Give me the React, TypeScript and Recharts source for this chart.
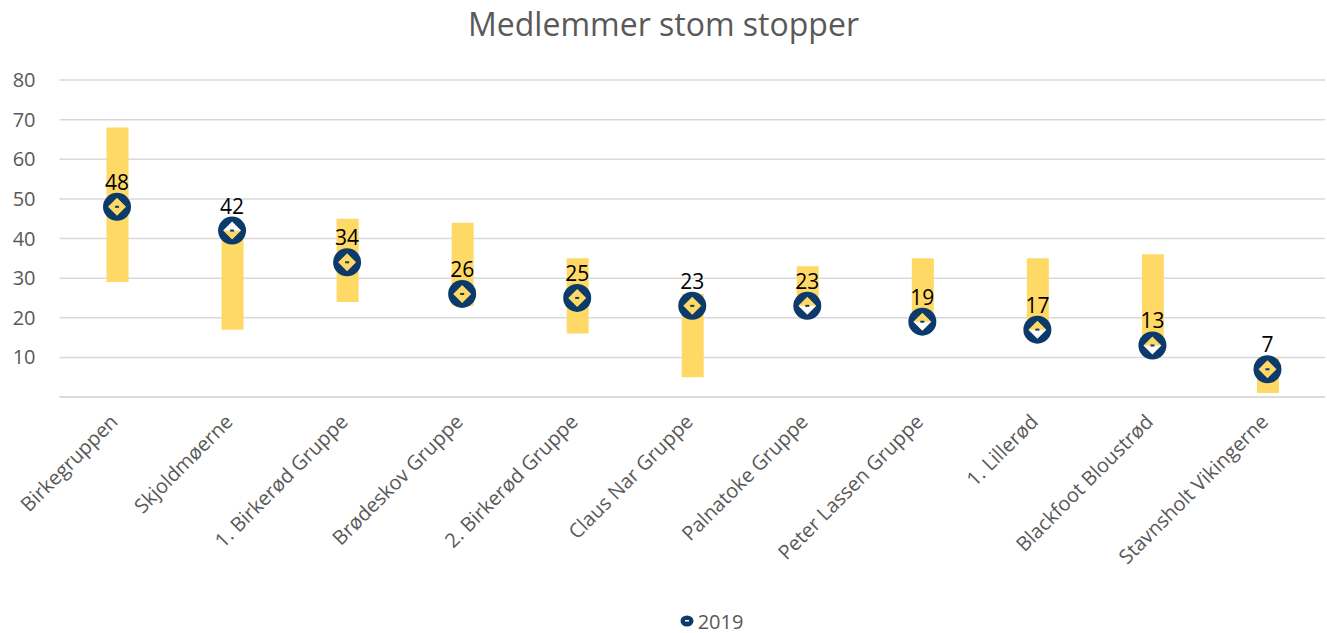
import { Bar, CartesianGrid, ComposedChart, Legend, Line, XAxis, YAxis } from "recharts";

const groups = [
  "Birkegruppen",
  "Skjoldmøerne",
  "1. Birkerød Gruppe",
  "Brødeskov Gruppe",
  "2. Birkerød Gruppe",
  "Claus Nar Gruppe",
  "Palnatoke Gruppe",
  "Peter Lassen Gruppe",
  "1. Lillerød",
  "Blackfoot Bloustrød",
  "Stavnsholt Vikingerne",
];
const rangeLow = [29, 17, 24, 23, 16, 5, 23, 19, 17, 13, 1];
const rangeHigh = [68, 42, 45, 44, 35, 26, 33, 35, 35, 36, 10];
const members2019 = [48, 42, 34, 26, 25, 23, 23, 19, 17, 13, 7];
const yTicks = [0, 10, 20, 30, 40, 50, 60, 70, 80];

const data = groups.map((name, i) => ({
  name,
  low: rangeLow[i],
  high: rangeHigh[i],
  value: members2019[i],
}));

const NAVY = "#0b3a6b";
const YELLOW = "#ffd966";
const GREY = "#595959";
const FONT = "'Open Sans', sans-serif";

function Marker(props: any) {
  const { cx, cy } = props;
  if (cx == null || cy == null) return null;
  const r = 14;
  const d = 9;
  const path =
    `M ${cx - r} ${cy} a ${r} ${r} 0 1 0 ${2 * r} 0 a ${r} ${r} 0 1 0 ${-2 * r} 0 Z ` +
    `M ${cx} ${cy - d} L ${cx + d} ${cy} L ${cx} ${cy + d} L ${cx - d} ${cy} Z`;
  return (
    <g>
      <path d={path} fill={NAVY} fillRule="evenodd" />
      <rect x={cx - 2} y={cy - 1} width={4} height={2} fill={NAVY} />
    </g>
  );
}

function ValueLabel(props: any) {
  const { x, y, value } = props;
  return (
    <text x={x} y={y - 17} textAnchor="middle" fontSize={21} fill="#000" fontFamily={FONT}>
      {value}
    </text>
  );
}

function AngledTick(props: any) {
  const { x, y, payload } = props;
  const px = x + 2;
  const py = y + 26;
  return (
    <text
      x={px}
      y={py}
      transform={`rotate(-45 ${px} ${py})`}
      textAnchor="end"
      fontSize={20}
      fill={GREY}
      fontFamily={FONT}
    >
      {payload.value}
    </text>
  );
}

function LegendContent() {
  return (
    <div
      style={{
        height: 24,
        display: "flex",
        justifyContent: "center",
        alignItems: "center",
        paddingLeft: 98,
        fontFamily: FONT,
        fontSize: 20,
        color: GREY,
      }}
    >
      <svg width={14} height={12} style={{ marginRight: 4 }}>
        <ellipse cx={7} cy={6} rx={6.5} ry={5.5} fill={NAVY} />
        <rect x={5} y={5} width={4} height={1.5} fill="#fff" />
      </svg>
      2019
    </div>
  );
}

export default function App() {
  return (
    <div
      style={{
        position: "absolute",
        left: 0,
        top: 0,
        width: 1327,
        height: 633,
        background: "#fff",
        fontFamily: FONT,
      }}
    >
      <div
        style={{
          position: "absolute",
          top: 2,
          left: 0,
          width: 1327,
          textAlign: "center",
          fontSize: 32,
          color: GREY,
        }}
      >
        Medlemmer stom stopper
      </div>
      <ComposedChart
        width={1327}
        height={633}
        data={data}
        margin={{ top: 80, right: 2, bottom: 0, left: 0 }}
      >
        <CartesianGrid vertical={false} stroke="#d9d9d9" strokeWidth={1.5} />
        <XAxis
          dataKey="name"
          interval={0}
          height={212}
          tickLine={false}
          tickSize={0}
          tickMargin={0}
          axisLine={{ stroke: "#d9d9d9", strokeWidth: 1.5 }}
          tick={<AngledTick />}
        />
        <YAxis
          domain={[0, 80]}
          ticks={yTicks}
          width={59.5}
          axisLine={false}
          tickLine={false}
          tickSize={0}
          tickMargin={24}
          tickFormatter={(v: number) => (v === 0 ? "" : String(v))}
          tick={{ fill: GREY, fontSize: 20, fontFamily: FONT }}
        />
        <Bar
          dataKey={(d: any) => [d.low, d.high]}
          fill={YELLOW}
          barSize={22}
          isAnimationActive={false}
        />
        <Line
          dataKey="value"
          stroke="none"
          dot={<Marker />}
          activeDot={false}
          label={<ValueLabel />}
          isAnimationActive={false}
        />
        <Legend verticalAlign="bottom" content={<LegendContent />} />
      </ComposedChart>
    </div>
  );
}
